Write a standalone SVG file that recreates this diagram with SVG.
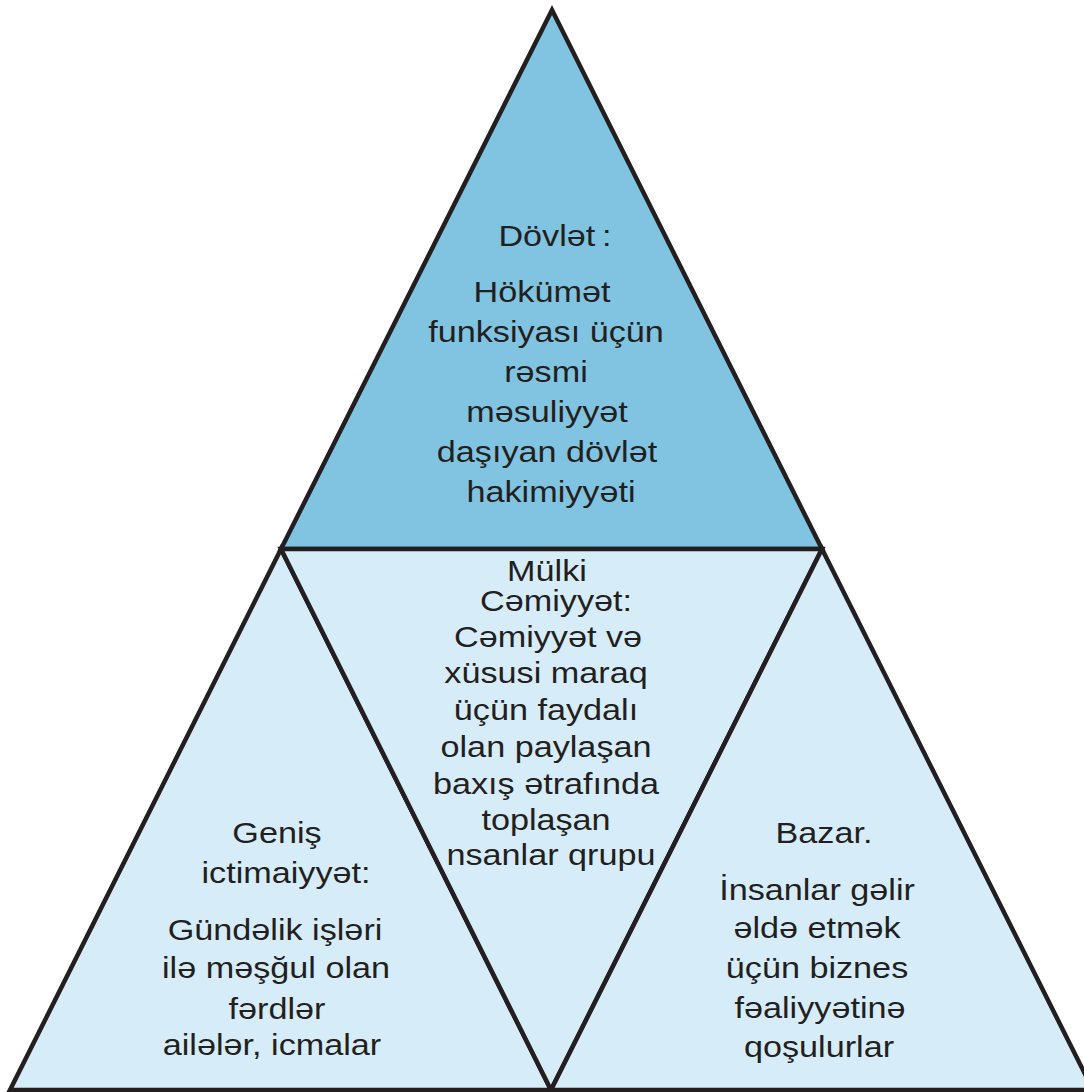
<svg xmlns="http://www.w3.org/2000/svg" width="1084" height="1092" viewBox="0 0 1084 1092">
<style>
.tri{stroke:#231f20;stroke-width:4.5;stroke-linejoin:miter}
.top{fill:#80c4e1}
.low{fill:#d6edf9}
text{font-family:"Liberation Sans",Arial,sans-serif;font-size:30px;fill:#231f20;text-anchor:middle}
</style>
<rect width="1084" height="1092" fill="#ffffff"/>
<g id="dovlet">
<polygon class="tri top" points="552,10 281,549 822,549"/>
<text transform="matrix(1.14 0 0 1 555 246)">Dövlət<tspan dx="6">:</tspan></text>
<text transform="matrix(1.14 0 0 1 542 302)">Hökümət</text>
<text transform="matrix(1.14 0 0 1 546 342)">funksiyası üçün</text>
<text transform="matrix(1.14 0 0 1 546 382)">rəsmi</text>
<text transform="matrix(1.14 0 0 1 547 422)">məsuliyyət</text>
<text transform="matrix(1.14 0 0 1 547 462)">daşıyan dövlət</text>
<text transform="matrix(1.14 0 0 1 551 502)">hakimiyyəti</text>
</g>
<g id="genis">
<polygon class="tri low" points="281,549 10,1090 551,1090"/>
<text transform="matrix(1.14 0 0 1 277 843)">Geniş</text>
<text transform="matrix(1.14 0 0 1 286 883)">ictimaiyyət:</text>
<text transform="matrix(1.14 0 0 1 275 940)">Gündəlik işləri</text>
<text transform="matrix(1.14 0 0 1 276 978)">ilə məşğul olan</text>
<text transform="matrix(1.14 0 0 1 277 1019)">fərdlər</text>
<text transform="matrix(1.14 0 0 1 272 1055)">ailələr, icmalar</text>
</g>
<g id="mulki">
<polygon class="tri low" points="281,549 822,549 551,1090"/>
<text transform="matrix(1.14 0 0 1 547 581)">Mülki</text>
<text transform="matrix(1.14 0 0 1 556 611)">Cəmiyyət:</text>
<text transform="matrix(1.14 0 0 1 548 647)">Cəmiyyət və</text>
<text transform="matrix(1.14 0 0 1 546 683)">xüsusi maraq</text>
<text transform="matrix(1.14 0 0 1 546 720)">üçün faydalı</text>
<text transform="matrix(1.14 0 0 1 546 757)">olan paylaşan</text>
<text transform="matrix(1.14 0 0 1 546 794)">baxış ətrafında</text>
<text transform="matrix(1.14 0 0 1 546 830)">toplaşan</text>
<text transform="matrix(1.14 0 0 1 551 865)">nsanlar qrupu</text>
</g>
<g id="bazar">
<polygon class="tri low" points="822,549 551,1090 1093,1090"/>
<text transform="matrix(1.14 0 0 1 824 843)">Bazar.</text>
<text transform="matrix(1.14 0 0 1 817 900)">İnsanlar gəlir</text>
<text transform="matrix(1.14 0 0 1 817 938)">əldə etmək</text>
<text transform="matrix(1.14 0 0 1 817 978)">üçün biznes</text>
<text transform="matrix(1.14 0 0 1 820 1018)">fəaliyyətinə</text>
<text transform="matrix(1.14 0 0 1 819 1057)">qoşulurlar</text>
</g>
</svg>
